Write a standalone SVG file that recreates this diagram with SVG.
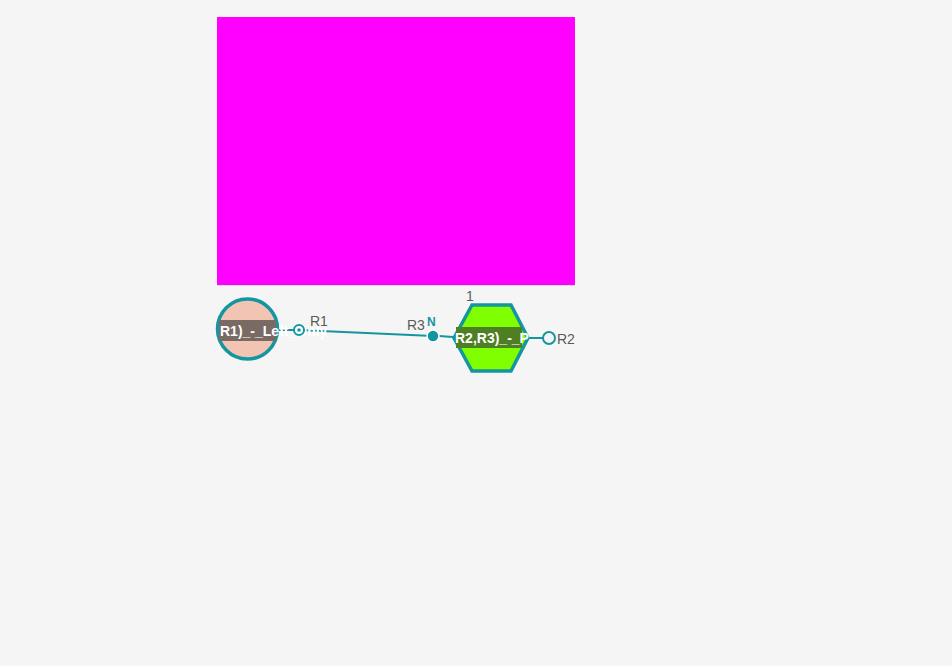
<svg xmlns="http://www.w3.org/2000/svg" width="952" height="666" viewBox="0 0 952 666">
<defs>
<style>
.lbl{font-family:"Liberation Sans",Arial,sans-serif;font-size:14px;fill:#5a5a5a}
.name{font-family:"Liberation Sans",Arial,sans-serif;font-size:14px;font-weight:bold;fill:#ffffff}
.edge{stroke:#13969f;stroke-width:2;fill:none}
.node{stroke:#13969f;stroke-width:3.5}
</style>
<clipPath id="hexclip"><rect x="0" y="0" width="529" height="666"/></clipPath>
</defs>
<rect width="952" height="666" fill="#f5f5f5"/>
<g id="frame">
<rect x="217" y="18" width="358" height="268" fill="#dcdcdc"/>
<rect x="217" y="17" width="358" height="268" fill="#ff00ff"/>
</g>
<g id="connectors">
<line class="edge" x1="278" y1="330" x2="299" y2="330"/>
<line class="edge" x1="299" y1="330" x2="433" y2="336"/>
<line class="edge" x1="439" y1="336" x2="453" y2="337"/>
<line class="edge" x1="528" y1="338" x2="543" y2="338"/>
</g>
<g id="node-left">
<circle class="node" cx="247.5" cy="329" r="30" fill="#f2c4b4"/>
<rect x="219" y="320" width="57" height="21" fill="#7a6a64"/>
<text class="name" x="220" y="335.5">R1)_-_Left_Only</text>
</g>
<g id="node-right">
<polygon class="node" points="472,305 511,305 528,338 511,371 472,371 454,338" fill="#80ff00"/>
<rect x="456" y="327" width="66" height="21" fill="#4e7f22"/>
<text class="name" x="455" y="343" clip-path="url(#hexclip)">R2,R3)_-_P</text>
</g>
<g id="ports">
<circle cx="299" cy="330" r="5" fill="#ffffff" stroke="#13969f" stroke-width="2"/>
<circle cx="299" cy="330" r="1.8" fill="#13969f"/>
<circle cx="433" cy="336" r="6" fill="#13969f" stroke="#ffffff" stroke-width="1.5"/>
<circle cx="549" cy="338" r="6" fill="none" stroke="#13969f" stroke-width="2"/>
</g>
<g id="labels">
<text class="lbl" x="310" y="326">R1</text>
<text class="lbl" x="407" y="330">R3</text>
<text x="427" y="326" font-family="Liberation Sans,Arial,sans-serif" font-size="12" font-weight="bold" fill="#13969f">N</text>
<text class="lbl" x="466" y="301">1</text>
<text class="lbl" x="557" y="344">R2</text>
</g>
</svg>
